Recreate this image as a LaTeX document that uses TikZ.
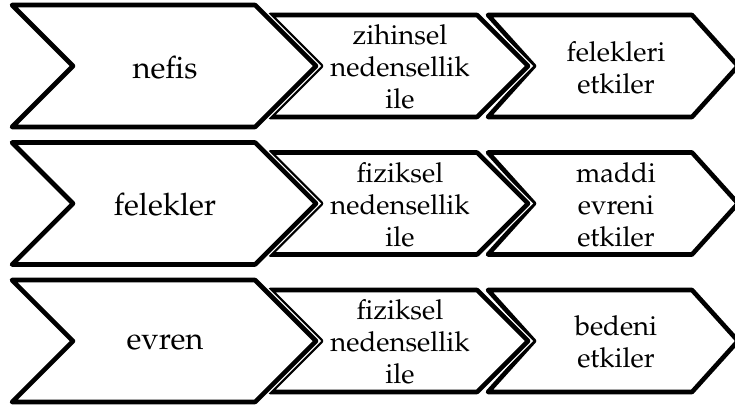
\documentclass[tikz,border=0pt]{standalone}
\usepackage[T1]{fontenc}
\renewcommand{\rmdefault}{ppl}
\tikzset{
  chev/.style={draw=black, fill=white, line width=4.6pt, line join=round,
    preaction={draw=white, line width=7.2pt}},
  lbl/.style={align=center, inner sep=0pt, font=\fontsize{27.5}{32}\selectfont},
  biglbl/.style={lbl, font=\fontsize{31}{36}\selectfont}
}
\newcommand{\chevshape}[5]{%
  \draw[chev] (#1,#3) -- (#2,#3) -- ({#2+#5},{(#3+#4)/2}) -- (#2,#4) -- (#1,#4) -- ({#1+#5},{(#3+#4)/2}) -- cycle;}
\begin{document}
\begin{tikzpicture}[x=1pt,y=-1pt]
\useasboundingbox (0,0) rectangle (735,409);
\begin{scope}
\clip (0,0) rectangle (735,409);
% row 1
\chevshape{488}{692}{15}{117}{46}
\chevshape{270}{477}{15}{117}{51}
\chevshape{12}{255}{5}{127}{61}
% row 2
\chevshape{488}{692}{152.5}{254.5}{46}
\chevshape{270}{477}{152.5}{254.5}{51}
\chevshape{12}{255}{142.5}{264.5}{61}
% row 3
\chevshape{488}{692}{290}{392}{46}
\chevshape{270}{477}{290}{392}{51}
\chevshape{12}{255}{280}{402}{61}
\end{scope}
\node[biglbl] (a1) at (165,68) {nefis};
\node[lbl] (b1) at (400,67) {zihinsel\\nedensellik\\ile};
\node[lbl] (c1) at (616,68) {felekleri\\etkiler};
\node[biglbl] (a2) at (165,205) {felekler};
\node[lbl] (b2) at (400,204.5) {fiziksel\\nedensellik\\ile};
\node[lbl] (c2) at (616,204.5) {maddi\\evreni\\etkiler};
\node[biglbl] (a3) at (165,342) {evren};
\node[lbl] (b3) at (400,342) {fiziksel\\nedensellik\\ile};
\node[lbl] (c3) at (616,342) {bedeni\\etkiler};
\end{tikzpicture}
\end{document}
